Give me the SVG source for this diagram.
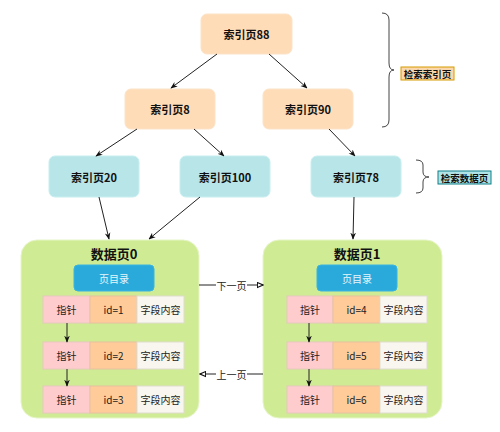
<svg xmlns="http://www.w3.org/2000/svg" width="500" height="432" viewBox="0 0 500 432">
<defs>
<marker id="ah" viewBox="0 0 10 10" refX="9" refY="5" markerWidth="7" markerHeight="7" orient="auto-start-reverse">
<path d="M0,1 L10,5 L0,9 L3,5 Z" fill="#111"/>
</marker>
<marker id="oh" viewBox="0 0 10 10" refX="9" refY="5" markerWidth="7" markerHeight="7" orient="auto-start-reverse">
<path d="M1,1.5 L9,5 L1,8.5 Z" fill="#fff" stroke="#111" stroke-width="1.5"/>
</marker>
<style>
text{font-family:"Noto Sans CJK SC","Liberation Sans",sans-serif;text-anchor:middle;dominant-baseline:central;fill:#111}
.idx{fill:#ffdcb8;stroke:#fbe3c8;stroke-width:1}
.dat{fill:#b8e5e8;stroke:#c8eef0;stroke-width:1}
.nt{font-size:11px;font-weight:bold}
.page{fill:#cfeb94;stroke:#e6f5c6;stroke-width:1}
.pt{font-size:13px;font-weight:bold}
.dir{fill:#2aaadb;stroke:#3bb4e0}
.dirt{font-size:10px;fill:#e8f6fc}
.ptr{fill:#ffccce;stroke:#e8c8c0}
.idc{fill:#ffcc99;stroke:#e8c0a0}
.fld{fill:#f8f6ef;stroke:#e0ddd0}
.ct{font-size:10px;fill:#222}
.con{stroke:#222;stroke-width:1;fill:none}
.br{stroke:#444;stroke-width:1;fill:none}
.lt{font-size:9.5px;font-weight:bold}
</style>
</defs>
<g id="n88"><rect class="idx" x="201" y="14" width="91" height="40" rx="6"/><text class="nt" x="246.5" y="34">索引页88</text></g>
<g id="n8"><rect class="idx" x="125" y="89" width="90" height="40" rx="6"/><text class="nt" x="170" y="109">索引页8</text></g>
<g id="n90"><rect class="idx" x="263" y="89" width="90" height="40" rx="6"/><text class="nt" x="308" y="109">索引页90</text></g>
<g id="n20"><rect class="dat" x="49" y="156" width="90" height="41" rx="6"/><text class="nt" x="94" y="176.5">索引页20</text></g>
<g id="n100"><rect class="dat" x="180" y="156" width="90" height="41" rx="6"/><text class="nt" x="225" y="176.5">索引页100</text></g>
<g id="n78"><rect class="dat" x="311" y="156" width="90" height="41" rx="6"/><text class="nt" x="356" y="176.5">索引页78</text></g>
<g id="brace1">
<path class="br" d="M382,13 Q389,13 389,20 V63 Q389,70 394,70 Q389,70 389,77 V120 Q389,127 382,127"/>
<rect x="401" y="67" width="53" height="13" fill="#fad7ac" stroke="#d79b00" stroke-width="1"/>
<text class="lt" x="427.5" y="73.5">检索索引页</text>
</g>
<g id="brace2">
<path class="br" d="M416,160 Q423,160 423,165 V172 Q423,177 429,177 Q423,177 423,182 V188 Q423,193 416,193"/>
<rect x="438" y="171" width="53" height="13" fill="#b0e3e6" stroke="#0e8088" stroke-width="1"/>
<text class="lt" x="464.5" y="177.5">检索数据页</text>
</g>
<g id="page0">
<rect class="page" x="21" y="240" width="178" height="178" rx="16"/>
<text class="pt" x="114" y="253">数据页0</text>
<rect class="dir" x="74" y="265" width="80" height="26" rx="4"/>
<text class="dirt" x="114" y="278">页目录</text>
<g id="p0r1"><rect class="ptr" x="43" y="296" width="47" height="27"/><rect class="idc" x="90" y="296" width="47" height="27"/><rect class="fld" x="137" y="296" width="47" height="27"/>
<text class="ct" x="66.5" y="309.5">指针</text><text class="ct" x="113.5" y="309.5">id=1</text><text class="ct" x="160.5" y="309.5">字段内容</text></g>
<g id="p0r2"><rect class="ptr" x="43" y="342" width="47" height="27"/><rect class="idc" x="90" y="342" width="47" height="27"/><rect class="fld" x="137" y="342" width="47" height="27"/>
<text class="ct" x="66.5" y="355.5">指针</text><text class="ct" x="113.5" y="355.5">id=2</text><text class="ct" x="160.5" y="355.5">字段内容</text></g>
<g id="p0r3"><rect class="ptr" x="43" y="386" width="47" height="27"/><rect class="idc" x="90" y="386" width="47" height="27"/><rect class="fld" x="137" y="386" width="47" height="27"/>
<text class="ct" x="66.5" y="399.5">指针</text><text class="ct" x="113.5" y="399.5">id=3</text><text class="ct" x="160.5" y="399.5">字段内容</text></g>
</g>
<g id="page1">
<rect class="page" x="263" y="240" width="179" height="178" rx="16"/>
<text class="pt" x="357" y="253">数据页1</text>
<rect class="dir" x="317" y="265" width="80" height="26" rx="4"/>
<text class="dirt" x="357" y="278">页目录</text>
<g id="p1r1"><rect class="ptr" x="287" y="296" width="46" height="27"/><rect class="idc" x="333" y="296" width="47" height="27"/><rect class="fld" x="380" y="296" width="47" height="27"/>
<text class="ct" x="310" y="309.5">指针</text><text class="ct" x="356.5" y="309.5">id=4</text><text class="ct" x="403.5" y="309.5">字段内容</text></g>
<g id="p1r2"><rect class="ptr" x="287" y="342" width="46" height="27"/><rect class="idc" x="333" y="342" width="47" height="27"/><rect class="fld" x="380" y="342" width="47" height="27"/>
<text class="ct" x="310" y="355.5">指针</text><text class="ct" x="356.5" y="355.5">id=5</text><text class="ct" x="403.5" y="355.5">字段内容</text></g>
<g id="p1r3"><rect class="ptr" x="287" y="386" width="46" height="27"/><rect class="idc" x="333" y="386" width="47" height="27"/><rect class="fld" x="380" y="386" width="47" height="27"/>
<text class="ct" x="310" y="399.5">指针</text><text class="ct" x="356.5" y="399.5">id=6</text><text class="ct" x="403.5" y="399.5">字段内容</text></g>
</g>
<g id="connectors">
<line class="con" x1="217" y1="54" x2="171" y2="88" marker-end="url(#ah)"/>
<line class="con" x1="269" y1="54" x2="307" y2="88" marker-end="url(#ah)"/>
<line class="con" x1="137" y1="129" x2="96" y2="156" marker-end="url(#ah)"/>
<line class="con" x1="194" y1="129" x2="224" y2="156" marker-end="url(#ah)"/>
<line class="con" x1="329" y1="129" x2="355" y2="156" marker-end="url(#ah)"/>
<line class="con" x1="99" y1="197" x2="109" y2="239" marker-end="url(#ah)"/>
<line class="con" x1="200" y1="197" x2="149" y2="239" marker-end="url(#ah)"/>
<line class="con" x1="354" y1="197" x2="353" y2="239" marker-end="url(#ah)"/>
<line class="con" x1="67" y1="323" x2="67" y2="342" marker-end="url(#ah)"/>
<line class="con" x1="67" y1="369" x2="67" y2="386" marker-end="url(#ah)"/>
<line class="con" x1="309" y1="323" x2="309" y2="342" marker-end="url(#ah)"/>
<line class="con" x1="309" y1="369" x2="309" y2="386" marker-end="url(#ah)"/>
<path class="con" d="M199,285 H216 M247,285 H263" marker-end="url(#oh)"/>
<text x="231.5" y="285" class="ct">下一页</text>
<path class="con" d="M263,374 H247 M216,374 H200" marker-end="url(#oh)"/>
<text x="231.5" y="374" class="ct">上一页</text>
</g>
</svg>
